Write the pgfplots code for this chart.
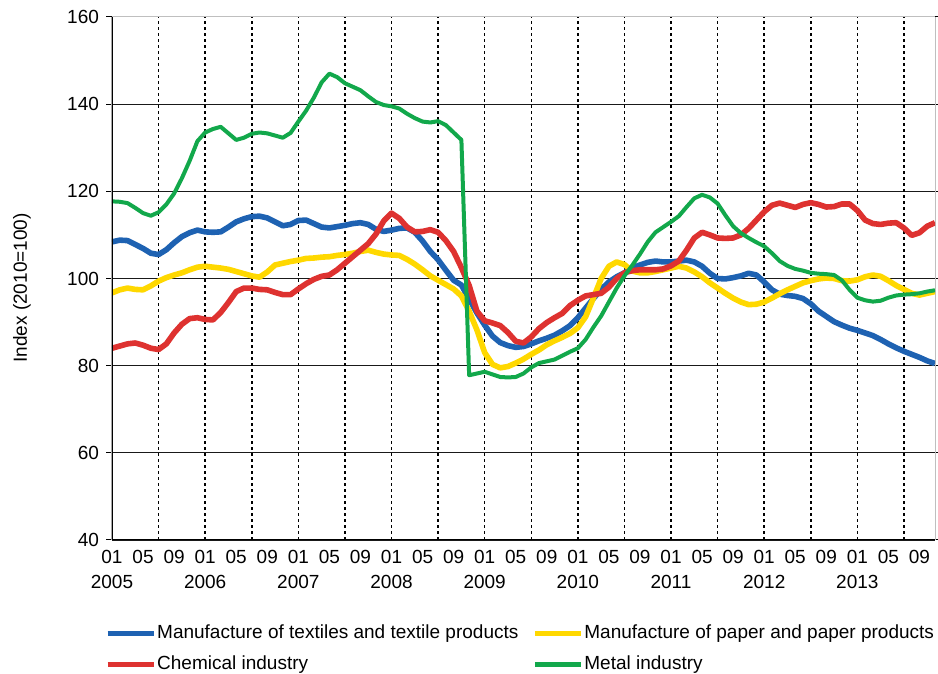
\documentclass[border=0pt]{standalone}
\usepackage{fontspec}
\setmainfont{Liberation Sans}
\usepackage{pgfplots}
\usepackage{pgfplotstable}
\pgfplotsset{compat=1.18}
\definecolor{cblue}{RGB}{30,98,178}
\definecolor{cyellow}{RGB}{255,216,0}
\definecolor{cred}{RGB}{222,50,48}
\definecolor{cgreen}{RGB}{18,168,75}
\newcommand\f{\fontsize{9.5}{12.5}\selectfont}
\pgfplotstableread{
i tex pap chem met
0 108.4 96.7 84.0 117.7
1 108.8 97.4 84.5 117.6
2 108.7 97.8 85.0 117.3
3 107.8 97.5 85.2 116.2
4 106.9 97.4 84.7 115.0
5 105.8 98.3 84.0 114.4
6 105.5 99.4 83.7 115.2
7 106.6 100.2 85.0 117.0
8 108.2 100.8 87.5 119.5
9 109.6 101.3 89.5 123.0
10 110.5 102.0 90.8 127.0
11 111.1 102.6 91.0 131.5
12 110.7 102.8 90.6 133.5
13 110.6 102.6 90.5 134.3
14 110.7 102.4 92.2 134.8
15 111.8 102.1 94.5 133.3
16 113.0 101.6 97.0 131.8
17 113.7 101.1 97.8 132.3
18 114.2 100.6 97.8 133.2
19 114.3 100.3 97.5 133.5
20 113.9 101.5 97.4 133.3
21 113.0 103.1 96.8 132.8
22 112.1 103.5 96.3 132.3
23 112.4 103.9 96.3 133.4
24 113.3 104.2 97.6 136.0
25 113.4 104.6 98.8 138.5
26 112.6 104.7 99.8 141.5
27 111.8 104.9 100.5 145.0
28 111.6 105.0 100.8 147.0
29 111.9 105.3 102.0 146.2
30 112.2 105.5 103.5 144.8
31 112.6 105.8 105.0 144.0
32 112.8 106.2 106.5 143.2
33 112.4 106.5 108.0 141.8
34 111.3 106.0 110.2 140.5
35 110.8 105.6 113.2 139.8
36 111.1 105.4 115.0 139.5
37 111.5 105.3 113.8 139.0
38 111.6 104.4 111.8 137.8
39 110.6 103.3 110.7 136.8
40 108.6 102.0 110.8 136.0
41 106.2 100.6 111.2 135.8
42 104.3 99.6 110.6 136.1
43 101.9 98.6 108.7 135.2
44 99.6 97.6 106.2 133.5
45 98.5 96.0 102.5 131.8
46 95.3 92.5 98.4 77.8
47 92.1 88.2 92.5 78.2
48 89.3 83.0 90.3 78.6
49 86.8 80.3 89.8 78.0
50 85.3 79.5 89.2 77.4
51 84.6 79.8 87.6 77.3
52 84.2 80.6 85.6 77.4
53 84.4 81.5 85.2 78.2
54 85.0 82.6 86.6 79.6
55 85.7 83.6 88.5 80.6
56 86.3 84.8 89.9 81.0
57 87.0 85.7 91.0 81.4
58 88.0 86.5 92.0 82.3
59 89.2 87.4 93.8 83.2
60 91.0 88.7 95.0 84.0
61 93.2 91.2 96.0 86.0
62 95.4 95.5 96.3 88.8
63 97.5 100.0 96.6 91.4
64 99.2 102.8 98.0 94.6
65 100.4 103.8 100.0 97.8
66 101.3 103.2 101.3 100.6
67 102.4 101.7 101.8 103.0
68 103.1 101.3 102.0 105.6
69 103.7 101.3 102.0 108.4
70 104.0 101.6 102.0 110.6
71 103.8 102.0 102.2 111.8
72 103.8 102.4 102.9 113.0
73 104.0 102.8 104.0 114.3
74 104.2 102.4 106.5 116.4
75 103.8 101.5 109.3 118.4
76 102.8 100.4 110.6 119.2
77 101.2 99.0 110.0 118.6
78 100.0 97.8 109.3 117.2
79 99.9 96.6 109.2 114.5
80 100.2 95.5 109.3 112.0
81 100.6 94.6 110.0 110.4
82 101.2 94.0 111.5 109.3
83 100.8 94.1 113.4 108.3
84 99.2 94.6 115.3 107.4
85 97.4 95.5 116.8 105.8
86 96.4 96.5 117.3 104.0
87 96.1 97.4 116.8 102.9
88 95.9 98.2 116.3 102.2
89 95.4 99.0 117.0 101.8
90 94.2 99.5 117.4 101.3
91 92.5 99.9 117.0 101.1
92 91.3 100.1 116.4 101.0
93 90.1 100.0 116.5 100.8
94 89.3 99.5 117.1 99.6
95 88.6 99.4 117.1 97.4
96 88.1 99.7 115.6 95.6
97 87.5 100.4 113.4 95.0
98 86.9 100.8 112.6 94.7
99 86.0 100.5 112.4 94.9
100 85.0 99.5 112.7 95.6
101 84.1 98.4 112.8 96.1
102 83.3 97.5 111.6 96.3
103 82.6 96.6 109.9 96.4
104 81.9 96.2 110.5 96.6
105 81.1 96.6 112.0 97.0
106 80.5 97.0 112.8 97.3
}\data
\begin{document}
\begin{tikzpicture}
\begin{axis}[
  at={(0,0)}, anchor=south west,
  scale only axis, width=411.5pt, height=261.5pt,
  xmin=0, xmax=106, ymin=40, ymax=160,
  ytick={40,60,...,140},
  extra y ticks={160},
  extra y tick style={grid=none},
  xtick={0,4,...,104},
  xticklabels={{01\\2005},05,09,{01\\2006},05,09,{01\\2007},05,09,{01\\2008},05,09,{01\\2009},05,09,{01\\2010},05,09,{01\\2011},05,09,{01\\2012},05,09,{01\\2013},05,09},
  xticklabel style={align=center, font=\f, anchor=north, inner sep=2pt},
  yticklabel style={font=\f},
  /pgf/number format/assume math mode=true,
  tick align=outside, major tick length=3pt,
  xtick style={draw=none},
  ytick style={black, line width=0.5pt},
  ymajorgrids, major grid style={black!90, line width=0.6pt},
  extra x ticks={6,12,...,102}, extra x tick labels={},
  extra x tick style={grid=major, major grid style={black, dash pattern=on 1.6pt off 1.4pt, line width=0.75pt}, tick style={draw=none}},
  axis line style={draw=gray!50, line width=0.5pt},
  every axis plot/.append style={no marks, line join=round},
  legend columns=2,
  legend cell align=left,
  legend image code/.code={\draw[#1, line width=2.6pt] (0pt,0pt) -- (23pt,0pt);},
  legend style={draw=none, fill=none, at={(0,0)}, anchor=north west,
    xshift=-3.5pt, yshift=-42.5pt, inner sep=0pt, outer sep=0pt, row sep=7pt,
    nodes={inner xsep=0.5pt, inner ysep=0pt, font=\f}},
]
\addplot[cblue, line width=2.8pt] table[x=i, y=tex]{\data};
\addlegendentry{\makebox[187pt][l]{Manufacture of textiles and textile products}}
\addplot[cyellow, line width=2.8pt] table[x=i, y=pap]{\data};
\addlegendentry{Manufacture of paper and paper products}
\addplot[cred, line width=2.8pt] table[x=i, y=chem]{\data};
\addlegendentry{\makebox[187pt][l]{Chemical industry}}
\addplot[cgreen, line width=2pt] table[x=i, y=met]{\data};
\addlegendentry{Metal industry}
\draw[black, line width=0.6pt] (rel axis cs:0,0) -- (rel axis cs:0,1);
\draw[black, line width=0.6pt] (rel axis cs:0,0) -- (rel axis cs:1,0);
\end{axis}
\node[rotate=90, font=\f] at (-45pt,126pt) {Index (2010=100)};
\pgfresetboundingbox
\path[use as bounding box] (-56pt,-67pt) rectangle (413pt,270pt);
\end{tikzpicture}
\end{document}
